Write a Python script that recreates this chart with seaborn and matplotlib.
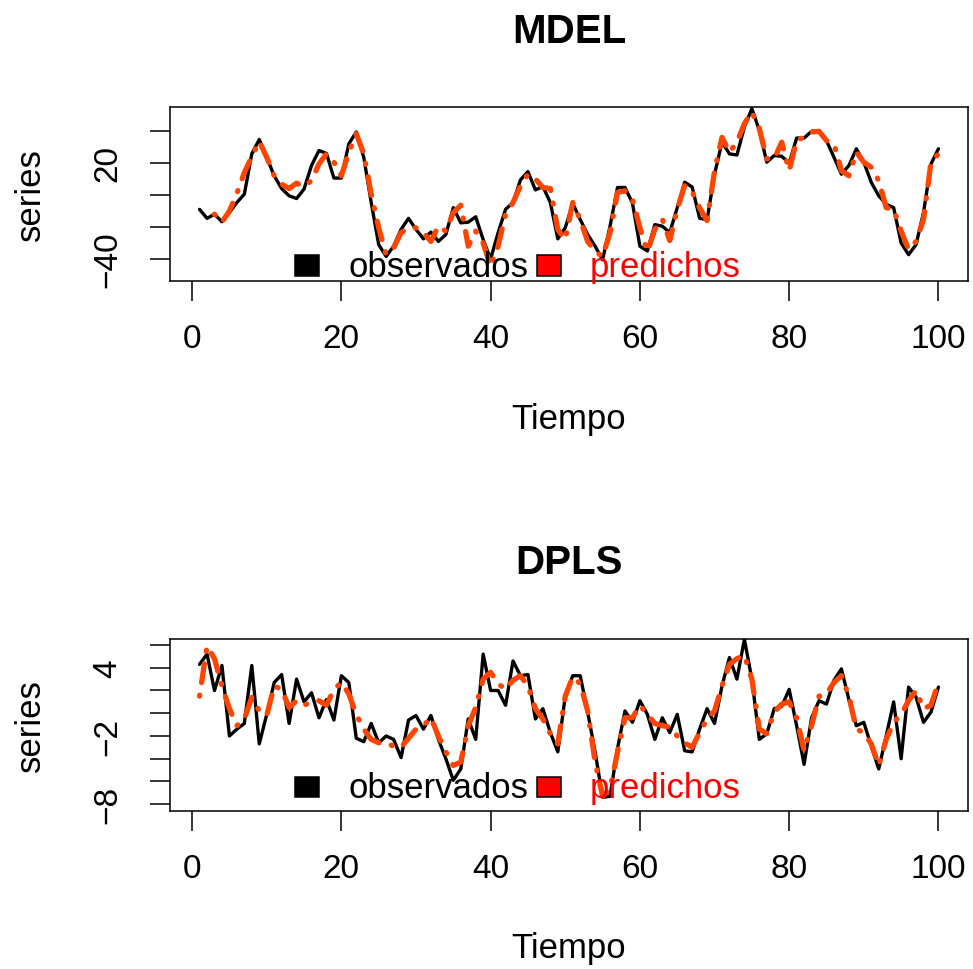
import numpy as np
import pandas as pd
import matplotlib
matplotlib.use("Agg")
import matplotlib.pyplot as plt
from matplotlib.patches import Rectangle
import seaborn as sns

# ---------------- data ----------------
tiempo = list(range(1, 101))

mdel_observados = [
    -9, -14.6, -12, -16.7, -11, -4.7, 0.5, 25.7, 34.7, 23.6,
    12, 4, -0.5, -2.2, 3.7, 18.4, 27.8, 26, 10.6, 10.6,
    32, 39.4, 23.6, -4.7, -31, -38.4, -32, -21.5, -14.6, -21.5,
    -27.4, -23.2, -29, -24.7, -7.9, -17.4, -17, -13.6, -27.9, -40,
    -23.6, -9, -4.7, 9.5, 14.6, 3.2, 5.3, -4.7, -27.4, -20.5,
    -5.2, -15.3, -24.7, -32, -40.5, -19.5, 4.7, 4.7, -5, -32,
    -35, -18.5, -19.5, -23.5, -8, 8, 5, -14.5, -15.5, 13,
    33, 25.7, 25, 42.5, 54, 40.4, 20.5, 24.7, 24.2, 20,
    35.6, 35.6, 39.8, 40, 34, 23.6, 13, 18.4, 28.9, 20.5,
    7.9, -0.5, -5.8, -7.9, -30, -37.3, -31, -11, 19.4, 28.9,
]

mdel_predichos = [
    np.nan, np.nan, -12, -17, -10, 1, 14, 24, 33.5, 23.6,
    12, 6.8, 4, 7.4, 5.3, 9, 19.4, 25.7, 20.5, 12,
    26.8, 38.3, 25.7, 0.5, -20.5, -37.3, -33, -23.6, -20.5, -20.5,
    -23.6, -29, -19.5, -22.6, -11, -6.4, -32, -22.6, -30, -44.7,
    -32, -12, -4.7, 5.7, 13, 10, 4.7, 4, -21.5, -27.9,
    -4.7, -15.3, -29, -35.2, -38.4, -23.6, 1.6, 2.6, -2.6, -20.5,
    -35.5, -21.5, -15, -28.5, -9, 6, 2, -8, -16, 15,
    36, 26.8, 33, 44.6, 52, 41.5, 22.6, 22.6, 33, 15.2,
    34, 36.2, 39.4, 39.8, 34, 32, 15.2, 12, 26.8, 20.5,
    17.3, 9, -7.9, -9, -22.6, -34, -29, -15.3, 20.5, 25.7,
]

dpls_observados = [
    4.3, 5.2, 2, 4.2, -2, -1.4, -0.9, 4.2, -2.7, -0.1,
    2.7, 3.4, -0.9, 3, 1, 1.8, -0.4, 1.2, -0.6, 3.3,
    2.7, -2.2, -2.5, -0.9, -2.6, -2, -2.3, -3.9, -0.6, -0.2,
    -1.4, -0.2, -2.3, -4, -5.9, -4.9, -0.5, -2.3, 5.2, 2,
    2, 0.7, 4.6, 3.3, 3.4, -0.5, 0.4, -1.7, -3.4, 1.5,
    3.3, 3.3, 0.1, -3.4, -7.4, -7.3, -3.1, 0.2, -0.8, 1.1,
    -0.1, -2.3, -0.4, -1.7, -0.1, -3.3, -3.4, -1.4, 0.4, -0.9,
    2.4, 4.9, 3, 6.5, 3, -2.3, -1.8, 0.4, 0.6, 2.1,
    -1.1, -4.5, -0.4, 1.1, 0.8, 2.9, 3.9, 1.2, -1.1, -0.8,
    -2.9, -4.9, -2, 1, -4, 2.3, 1.4, -0.8, 0.1, 2.3,
]

dpls_predichos = [
    1.5, 5.9, 4.8, 2.4, 0.4, -1.1, -0.5, 1.4, 0.2, -0.2,
    2.4, 2.1, 0.5, 1.1, 0.7, 1, 1.1, 0.7, 2.1, 2.7,
    1.7, -0.1, -1.4, -2.3, -2.6, -2.6, -2.9, -3, -2.2, -1.4,
    -1.1, -0.4, -2, -3.4, -4.6, -4.3, -1.1, 0.5, 3, 3.6,
    2.6, 2.1, 2.9, 3.3, 2.4, 0.4, -0.5, -1.8, -2.7, 1.5,
    3.2, 2.6, 0.2, -4.3, -7.3, -6.7, -3.4, -0.4, -0.4, 0.7,
    -0.1, -0.9, -1.1, -1.2, -2, -2.6, -3, -1.7, -0.5, 0.2,
    2.4, 4.3, 4.8, 5.1, 3, -1.4, -1.8, 0.1, 0.8, 1,
    -0.4, -3.3, -1.1, 1.5, 1.7, 2.7, 3.3, 1.5, -1.4, -1.7,
    -2.7, -4.6, -2.3, -0.8, -0.1, 1.1, 2, 0.4, 0.7, 2.7,
]

titulos = ["MDEL", "DPLS"]
x_ticks = [0, 20, 40, 60, 80, 100]
y_ticks_mdel = [-40, -20, 0, 20, 40]
y_labels_mdel = ["\u221240", "", "", "20", ""]
y_ticks_dpls = [-8, -6, -4, -2, 0, 2, 4, 6]
y_labels_dpls = ["\u22128", "", "", "\u22122", "", "", "4", ""]
leyenda = ["observados", "predichos"]

# ---------------- style ----------------
sns.set_theme(style="white")
plt.rcParams["font.family"] = ["Liberation Sans", "DejaVu Sans"]
plt.rcParams["axes.edgecolor"] = "black"
plt.rcParams["text.color"] = "black"
plt.rcParams["axes.labelcolor"] = "black"
plt.rcParams["xtick.color"] = "black"
plt.rcParams["ytick.color"] = "black"
plt.rcParams["axes.unicode_minus"] = True

W, H = 973, 970
fig = plt.figure(figsize=(W / 100, H / 100), dpi=100)
fig.patch.set_facecolor("white")

panels = [
    dict(box=(170, 108, 968, 282), obs=mdel_observados, pred=mdel_predichos,
         ylim=(-53.75, 55.0), yt=y_ticks_mdel, yl=y_labels_mdel, title=titulos[0],
         title_y=32, leg_base=0.029),
    dict(box=(170, 640, 968, 812), obs=dpls_observados, pred=dpls_predichos,
         ylim=(-8.6, 6.53), yt=y_ticks_dpls, yl=y_labels_dpls, title=titulos[1],
         title_y=563, leg_base=0.079),
]

FS = 24
FS_LAB = 25
for p in panels:
    x0, y0, x1, y1 = p["box"]
    w, h = x1 - x0, y1 - y0
    ax = fig.add_axes([x0 / W, 1 - y1 / H, w / W, h / H])
    ax.set_facecolor("white")
    df = pd.DataFrame({"Tiempo": tiempo, "obs": p["obs"], "pred": p["pred"]})
    sns.lineplot(data=df, x="Tiempo", y="obs", ax=ax, color="black",
                 linewidth=2.4, estimator=None, sort=False)
    sns.lineplot(data=df.dropna(), x="Tiempo", y="pred", ax=ax, color="#FF4500",
                 linewidth=3.8, estimator=None, sort=False)
    ln = ax.lines[-1]
    ln.set_dashes([0.2, 2.4, 3.6, 2.4])
    ln.set_dash_capstyle("round")
    ax.lines[0].set_solid_joinstyle("round")

    ax.set_xlim(-2.96, 103.96)
    ax.set_ylim(*p["ylim"])
    ax.set_xticks(x_ticks)
    ax.set_xticklabels([str(v) for v in x_ticks])
    ax.set_yticks(p["yt"])
    ax.set_yticklabels(p["yl"], rotation=90, va="center")
    ax.tick_params(axis="both", which="major", length=14.4, width=1.1,
                   direction="out", labelsize=FS, bottom=True, left=True)
    ax.tick_params(axis="x", pad=16)
    ax.tick_params(axis="y", pad=19)
    for s in ax.spines.values():
        s.set_visible(True)
        s.set_color("black")
        s.set_linewidth(1.1)

    ax.set_xlabel("Tiempo", fontsize=FS_LAB)
    ax.xaxis.set_label_coords(0.5, -(420 - 282) / 174)
    ax.xaxis.label.set_va("center")
    ax.set_ylabel("series", fontsize=FS_LAB)
    ax.yaxis.set_label_coords((30 - 170) / 798, 0.5)
    ax.yaxis.label.set_va("center")
    ax.yaxis.label.set_ha("center")

    ax.set_title(p["title"], fontsize=29, fontweight="bold",
                 y=(y1 - p["title_y"]) / h, va="center", pad=0)

    # legend (horizontal, bottom, no frame)
    base = p["leg_base"]
    sq_h = 20.5 / h
    for (lx, tx, fc, lab, tc) in [(295, 348, "black", leyenda[0], "black"),
                                  (537, 590, "red", leyenda[1], "red")]:
        ax.add_patch(Rectangle(((lx - x0) / w, base), 24 / w, sq_h,
                               transform=ax.transAxes, facecolor=fc,
                               edgecolor="black", linewidth=1.1, clip_on=False, zorder=5))
        ax.text((tx - x0) / w, base, lab, transform=ax.transAxes,
                fontsize=FS_LAB, color=tc, ha="left", va="baseline", zorder=5)

fig.savefig("out.png", dpi=100, facecolor="white")
